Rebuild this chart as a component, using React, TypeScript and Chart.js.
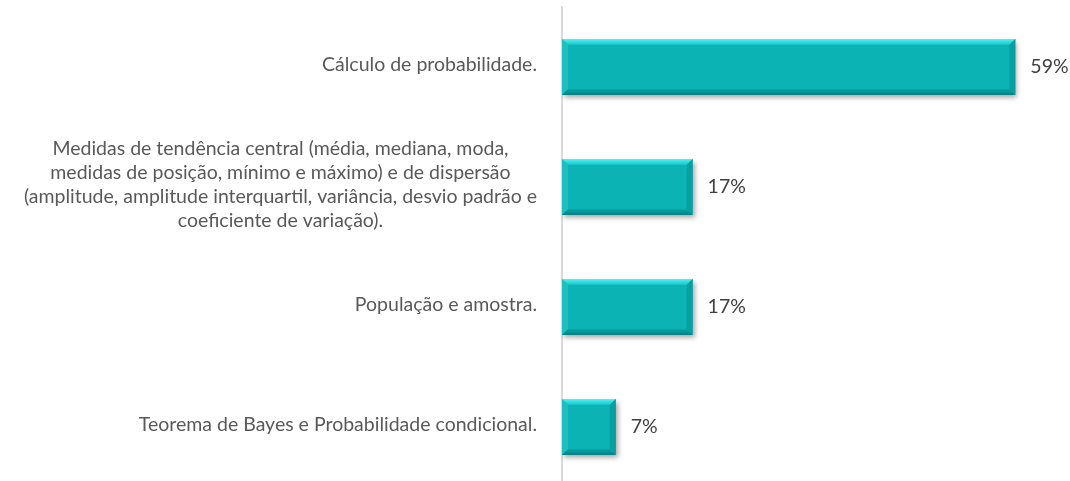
import React, { useEffect, useRef } from "react";
import { Chart, registerables } from "chart.js";

Chart.register(...registerables);

const categories: string[][] = [
  ["Cálculo de probabilidade."],
  [
    "Medidas de tendência central (média, mediana, moda,",
    "medidas de posição, mínimo e máximo) e de dispersão",
    "(amplitude, amplitude interquartil, variância, desvio padrão e",
    "coeficiente de variação).",
  ],
  ["População e amostra."],
  ["Teorema de Bayes e Probabilidade condicional."],
];
const values: number[] = [59, 17, 17, 7];
const valueLabels: string[] = ["59%", "17%", "17%", "7%"];

const FONT = "19.5px Lato, 'Open Sans', sans-serif";

export default function App() {
  const ref = useRef<HTMLCanvasElement | null>(null);
  useEffect(() => {
    if (!ref.current) return;
    const shadowPlugin = {
      id: "shadowBevel",
      beforeDatasetsDraw(chart: any) {
        const ctx = chart.ctx;
        ctx.save();
        ctx.shadowColor = "rgba(0,0,0,0.35)";
        ctx.shadowBlur = 5;
        ctx.shadowOffsetX = 2;
        ctx.shadowOffsetY = 3;
      },
      afterDatasetsDraw(chart: any) {
        const ctx = chart.ctx;
        ctx.restore();
        const meta = chart.getDatasetMeta(0);
        const b = 6;
        meta.data.forEach((el: any, i: number) => {
          const l = Math.min(el.base, el.x);
          const r = Math.max(el.base, el.x);
          const t = el.y - el.height / 2;
          const bt = el.y + el.height / 2;
          const poly = (pts: number[][], fill: any) => {
            ctx.beginPath();
            ctx.moveTo(pts[0][0], pts[0][1]);
            for (let k = 1; k < pts.length; k++) ctx.lineTo(pts[k][0], pts[k][1]);
            ctx.closePath();
            ctx.fillStyle = fill;
            ctx.fill();
          };
          const gTop = ctx.createLinearGradient(0, t, 0, t + b);
          gTop.addColorStop(0, "#4af6f7");
          gTop.addColorStop(1, "#18c2c4");
          poly([[l, t], [r, t], [r - b, t + b], [l + b, t + b]], gTop);
          poly([[l, t], [l + b, t + b], [l + b, bt - b], [l, bt]], "#1fbfc1");
          poly([[r, t], [r, bt], [r - b, bt - b], [r - b, t + b]], "#089fa1");
          const gBot = ctx.createLinearGradient(0, bt - b, 0, bt);
          gBot.addColorStop(0, "#09a5a7");
          gBot.addColorStop(1, "#067e80");
          poly([[l, bt], [r, bt], [r - b, bt - b], [l + b, bt - b]], gBot);
          ctx.font = FONT;
          ctx.fillStyle = "#404040";
          ctx.textAlign = "left";
          ctx.textBaseline = "middle";
          ctx.fillText(valueLabels[i], r + 15, el.y);
        });
      },
      afterDraw(chart: any) {
        const ctx = chart.ctx;
        const yScale = chart.scales.y;
        ctx.save();
        ctx.font = FONT;
        ctx.fillStyle = "#595959";
        ctx.textAlign = "center";
        ctx.textBaseline = "middle";
        categories.forEach((lines, i) => {
          const cy = yScale.getPixelForValue(i);
          const w = Math.max(...lines.map((s) => ctx.measureText(s).width));
          const cx = chart.chartArea.left - 25 - w / 2;
          const lh = 24;
          const y0 = cy - ((lines.length - 1) * lh) / 2 - 2;
          lines.forEach((s, k) => ctx.fillText(s, cx, y0 + k * lh));
        });
        ctx.restore();
      },
    };
    const chart = new Chart(ref.current, {
      type: "bar",
      data: {
        labels: categories.map((c) => c.join(" ")),
        datasets: [
          {
            data: values,
            backgroundColor: "#0bb3b5",
            borderWidth: 0,
            barPercentage: 0.467,
            categoryPercentage: 1,
          },
        ],
      },
      options: {
        indexAxis: "y",
        animation: false,
        responsive: false,
        maintainAspectRatio: false,
        layout: { padding: { top: 7, right: 47, bottom: 0, left: 0 } },
        plugins: { legend: { display: false }, tooltip: { enabled: false } },
        scales: {
          x: { display: false, min: 0, max: 60 },
          y: {
            grid: { display: false },
            ticks: { display: false },
            border: { display: true, color: "#d9d9d9", width: 2 },
            afterFit(scale: any) {
              scale.width = 562;
            },
          },
        },
      },
      plugins: [shadowPlugin],
    } as any);
    return () => chart.destroy();
  }, []);
  return (
    <div style={{ position: "fixed", left: 0, top: 0, width: 1070, height: 487, background: "#fff" }}>
      <canvas ref={ref} width={1070} height={487} style={{ width: 1070, height: 487 }} />
    </div>
  );
}
